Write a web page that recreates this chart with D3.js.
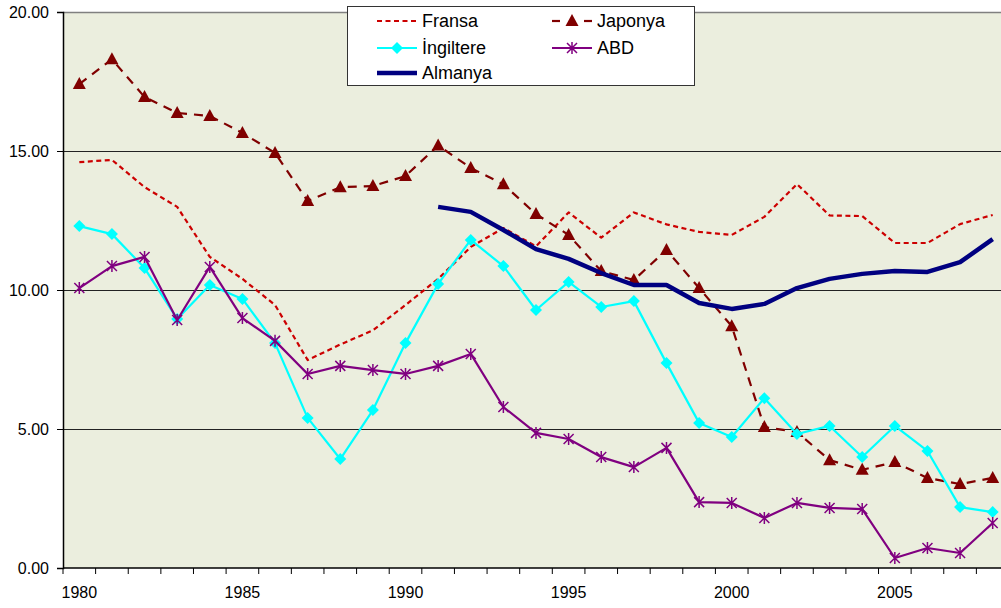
<!DOCTYPE html>
<html><head><meta charset="utf-8">
<script src="https://cdn.jsdelivr.net/npm/d3@7"></script>
<style>
html,body{margin:0;padding:0;background:#fff;overflow:hidden;}
svg{display:block;font-family:"Liberation Sans",Arial,sans-serif;}
</style></head>
<body>
<svg id="chart" width="1001" height="608"></svg>
<script>
const years = d3.range(1980, 2009);
const xTickLabels = [1980, 1985, 1990, 1995, 2000, 2005];
const yTicks = [0, 5, 10, 15, 20];

const fransa = [14.6,14.68,13.7,12.99,11.19,10.4,9.46,7.48,8.04,8.55,9.46,10.4,11.55,12.23,11.57,12.79,11.88,12.79,12.36,12.09,11.98,12.63,13.81,12.68,12.66,11.69,11.69,12.37,12.7];
const japonya = [17.41,18.3,16.94,16.37,16.26,15.65,14.93,13.2,13.7,13.74,14.1,15.2,14.39,13.8,12.73,11.98,10.68,10.36,11.44,10.07,8.7,5.07,4.89,3.88,3.53,3.81,3.24,3.02,3.24];
const ingiltere = [12.3,12.01,10.79,8.96,10.18,9.68,8.09,5.4,3.92,5.68,8.09,10.22,11.8,10.86,9.28,10.29,9.39,9.6,7.37,5.22,4.71,6.11,4.82,5.11,3.99,5.11,4.21,2.19,2.01];
const abd = [10.07,10.86,11.19,8.92,10.83,8.99,8.17,6.98,7.27,7.12,6.98,7.27,7.7,5.79,4.86,4.64,3.99,3.63,4.32,2.37,2.34,1.8,2.34,2.16,2.12,0.36,0.72,0.54,1.62];
const almanya = [null,null,null,null,null,null,null,null,null,null,null,12.99,12.81,12.16,11.47,11.12,10.61,10.18,10.18,9.53,9.32,9.5,10.07,10.4,10.58,10.68,10.65,11.0,11.83];

const seriesNames = ["Fransa","Japonya","İngiltere","ABD","Almanya"];

const svg = d3.select("#chart");
const L = 63, R = 1009, T = 12, B = 568;

const x = d3.scaleBand().domain(years).range([L, R]).padding(0);
const y = d3.scaleLinear().domain([0, 20]).range([B, T]);
const cx = d => x(d) + x.bandwidth() / 2;

// plot background
svg.append("rect").attr("x", L).attr("y", T).attr("width", R - L).attr("height", B - T).attr("fill", "#EBEEDE");
svg.append("line").attr("x1", L).attr("x2", R).attr("y1", T + 0.5).attr("y2", T + 0.5).attr("stroke", "#808080").attr("stroke-width", 1.5);

// grid
svg.append("g").selectAll("line").data([5, 10, 15]).join("line")
  .attr("x1", L).attr("x2", R).attr("y1", d => Math.round(y(d)) + 0.5).attr("y2", d => Math.round(y(d)) + 0.5)
  .attr("stroke", "#222").attr("stroke-width", 1);

// y axis
const yAxis = d3.axisLeft(y).tickValues(yTicks).tickSize(6).tickPadding(8).tickFormat(d3.format(".2f"));
const gy = svg.append("g").attr("transform", `translate(${L},0)`).call(yAxis);
gy.select(".domain").attr("stroke", "#000").attr("stroke-width", 1.5);
gy.selectAll(".tick line").attr("stroke", "#000");
gy.selectAll("text").attr("font-size", 16).attr("fill", "#000").attr("font-family", "Liberation Sans, Arial, sans-serif");

// x axis: ticks at band boundaries, labels at centres
const gx = svg.append("g").attr("transform", `translate(0,${B})`);
gx.append("line").attr("x1", L).attr("x2", R).attr("y1", 0).attr("y2", 0).attr("stroke", "#000").attr("stroke-width", 1.5);
gx.selectAll("line.tk").data(years.concat([2009])).join("line").attr("class", "tk")
  .attr("x1", d => d === 2009 ? R : x(d)).attr("x2", d => d === 2009 ? R : x(d))
  .attr("y1", 0).attr("y2", 6).attr("stroke", "#000");
gx.selectAll("text").data(xTickLabels).join("text")
  .attr("x", d => cx(d)).attr("y", 30).attr("text-anchor", "middle")
  .attr("font-size", 16).attr("fill", "#000").text(d => d);

// series
const lineGen = d3.line().defined(d => d.v !== null).x(d => cx(d.year)).y(d => y(d.v));
function mk(arr) { return years.map((yr, i) => ({ year: yr, v: arr[i] })); }

const styles = {
  "Fransa":   { data: fransa,   color: "#CC0000", width: 2.2, dash: "5,3.5", marker: null },
  "Japonya":  { data: japonya,  color: "#800000", width: 2.2, dash: "9,7", marker: "tri" },
  "İngiltere":{ data: ingiltere,color: "#00FFFF", width: 2.2, dash: null, marker: "dia" },
  "ABD":      { data: abd,      color: "#800080", width: 2.2, dash: null, marker: "ast" },
  "Almanya":  { data: almanya,  color: "#000080", width: 4.5, dash: null, marker: null }
};

function drawMarker(g, type, color, px, py) {
  if (type === "tri") {
    g.append("path").attr("d", `M${px},${py - 7}L${px + 6.5},${py + 5}L${px - 6.5},${py + 5}Z`).attr("fill", color);
  } else if (type === "dia") {
    g.append("path").attr("d", `M${px},${py - 6}L${px + 6},${py}L${px},${py + 6}L${px - 6},${py}Z`).attr("fill", color);
  } else if (type === "ast") {
    const s = 5;
    g.append("path").attr("d", `M${px - s},${py - s}L${px + s},${py + s}M${px - s},${py + s}L${px + s},${py - s}M${px},${py - s - 1}L${px},${py + s + 1}`)
      .attr("stroke", color).attr("stroke-width", 1.5).attr("fill", "none");
  }
}

const plotG = svg.append("g");
seriesNames.forEach(name => {
  const st = styles[name];
  const data = mk(st.data);
  const g = plotG.append("g");
  g.append("path").datum(data).attr("d", lineGen).attr("fill", "none")
    .attr("stroke", st.color).attr("stroke-width", st.width)
    .attr("stroke-dasharray", st.dash).attr("stroke-linejoin", "round");
  if (st.marker) {
    data.filter(d => d.v !== null).forEach(d => drawMarker(g, st.marker, st.color, cx(d.year), y(d.v)));
  }
});

// legend
const lg = svg.append("g");
lg.append("rect").attr("x", 347.5).attr("y", 6.5).attr("width", 347).attr("height", 79)
  .attr("fill", "#fff").attr("stroke", "#333").attr("stroke-width", 1);
const legendPos = {
  "Fransa": [377, 21], "Japonya": [552, 21], "İngiltere": [377, 48], "ABD": [552, 48], "Almanya": [377, 73]
};
seriesNames.forEach(name => {
  const st = styles[name];
  const [lx, ly] = legendPos[name];
  if (name === "Japonya") {
    lg.append("line").attr("x1", lx).attr("x2", lx + 8).attr("y1", ly).attr("y2", ly).attr("stroke", st.color).attr("stroke-width", st.width);
    lg.append("line").attr("x1", lx + 32).attr("x2", lx + 40).attr("y1", ly).attr("y2", ly).attr("stroke", st.color).attr("stroke-width", st.width);
  } else {
    lg.append("line").attr("x1", lx).attr("x2", lx + 40).attr("y1", ly).attr("y2", ly)
      .attr("stroke", st.color).attr("stroke-width", st.width).attr("stroke-dasharray", st.dash);
  }
  if (st.marker) drawMarker(lg, st.marker, st.color, lx + 20, ly);
  lg.append("text").attr("x", lx + 45).attr("y", ly).attr("dy", "0.35em")
    .attr("font-size", 18).attr("fill", "#000").text(name);
});
</script>
</body></html>
